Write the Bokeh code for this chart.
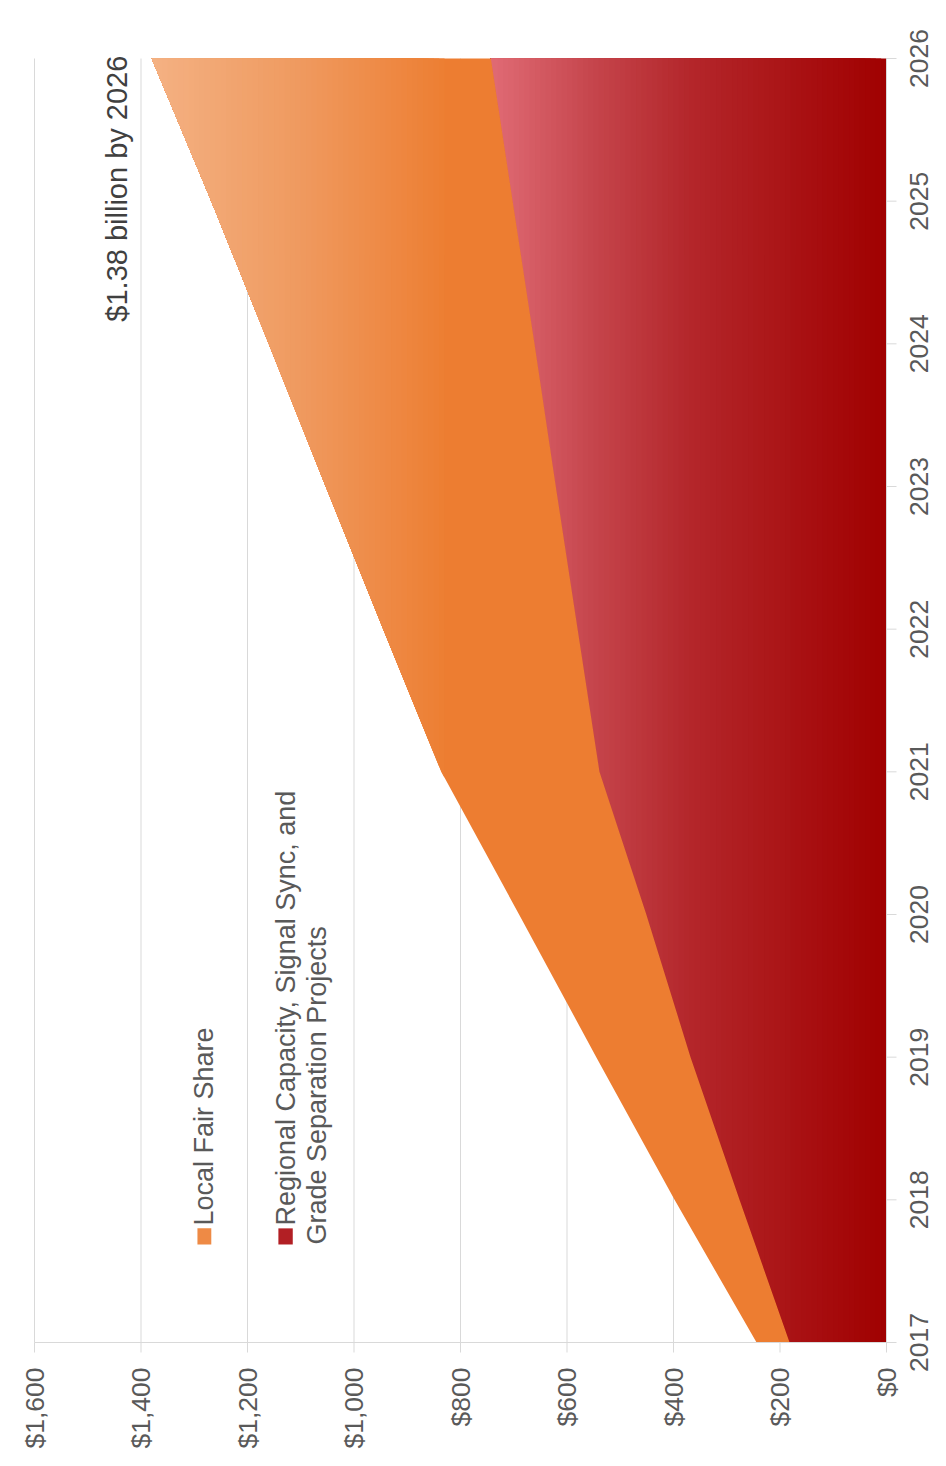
import numpy as np
from bokeh.plotting import figure
from bokeh.models import Range1d, Label, BoxAnnotation, ColumnDataSource
from bokeh.core.properties import value
from bokeh.embed import file_html
from bokeh.resources import INLINE

# ---- data (values in $ millions) ----
years = [2017, 2018, 2019, 2020, 2021, 2022, 2023, 2024, 2025, 2026]
regional = [182, 276, 368, 451, 539, 580, 621, 661, 702, 743]
local_fair_share = [62, 122, 177, 239, 297, 365, 432, 499, 566, 637]
value_ticks = [0, 200, 400, 600, 800, 1000, 1200, 1400, 1600]
value_labels = ["$0", "$200", "$400", "$600", "$800", "$1,000", "$1,200", "$1,400", "$1,600"]
year_ticks = years
year_labels = [str(y) for y in year_ticks]
series_names = ["Local Fair Share", "Regional Capacity, Signal Sync, and", "Grade Separation Projects"]
annotation_text = "$1.38 billion by 2026"

# gradient stops (value -> colour)
red_stops = [(0, "#a00000"), (370, "#b4272b"), (540, "#c4434a"), (743, "#e06b75")]
orange_stops = [(0, "#ed7d31"), (820, "#ed7d31"), (1100, "#ef9a5f"), (1380, "#f4b183")]

FONT = "Liberation Sans"
GRID = "#d9d9d9"
LABEL_COL = "#595959"
TICK_FONT = "26.5px"

def hex2rgb(h):
    h = h.lstrip("#")
    return np.array([int(h[i:i + 2], 16) for i in (0, 2, 4)], dtype=float)

def colour_at(v, stops):
    vs = [s[0] for s in stops]
    cs = np.array([hex2rgb(s[1]) for s in stops])
    r, g, b = (np.interp(v, vs, cs[:, i]) for i in range(3))
    return "#%02x%02x%02x" % (int(round(r)), int(round(g)), int(round(b)))

def strip(lower, upper, vk):
    ys = set(float(y) for y in years)
    for f in (lower, upper):
        for i in range(len(years) - 1):
            a, b = f[i] - vk, f[i + 1] - vk
            if a * b < 0:
                ys.add(years[i] + (years[i + 1] - years[i]) * a / (a - b))
    ys = sorted(ys)
    lo = np.maximum(np.interp(ys, years, lower), vk)
    hi = np.maximum(np.interp(ys, years, upper), vk)
    return list(lo) + list(hi[::-1]), ys + ys[::-1]

def gradient_source(lower, upper, starts, stops, step):
    xs, ys, cols = [], [], []
    for vk in starts:
        px, py = strip(lower, upper, vk)
        xs.append(px)
        ys.append(py)
        cols.append(colour_at(vk + step / 2.0, stops))
    return ColumnDataSource(dict(xs=xs, ys=ys, color=cols))

reg = np.array(regional, dtype=float)
total = reg + np.array(local_fair_share, dtype=float)
zero = np.zeros_like(reg)

# ---- layout: one frame covering the whole canvas; the data box
# ($1,600..$0 x 2017..2026) sits at canvas x 34..886, y 58..1342 ----
W, H = 944, 1458
BOX_LEFT, BOX_W, BOX_TOP, BOX_H = 34, 852, 58, 1284
px_per_unit = BOX_W / (value_ticks[-1] - value_ticks[0])
px_per_year = BOX_H / (year_ticks[-1] - year_ticks[0])
x_start = value_ticks[-1] + BOX_LEFT / px_per_unit
x_end = value_ticks[0] - (W - BOX_LEFT - BOX_W) / px_per_unit
y_end = year_ticks[-1] + BOX_TOP / px_per_year
y_start = year_ticks[0] - (H - BOX_TOP - BOX_H) / px_per_year

p = figure(width=W, height=H,
           x_range=Range1d(x_start, x_end), y_range=Range1d(y_start, y_end),
           x_axis_location=None, y_axis_location=None,
           output_backend="svg", toolbar_location=None,
           min_border_left=0, min_border_right=0, min_border_top=0, min_border_bottom=0)
p.outline_line_color = None
p.background_fill_color = "white"
p.xgrid.grid_line_color = None
p.ygrid.grid_line_color = None

# value gridlines, limited to the 2017..2026 span
n_v = len(value_ticks)
p.segment(x0=value_ticks, y0=[year_ticks[0]] * n_v, x1=value_ticks, y1=[year_ticks[-1]] * n_v,
          line_color=GRID, line_width=1)

# red series (bottom) with gradient
step = 10
red_starts = list(np.arange(0, float(reg.max()), step))
src_red = gradient_source(zero, reg, red_starts, red_stops, step)
p.patches(xs="xs", ys="ys", fill_color="color", line_color=None, source=src_red)

# orange series (stacked) with gradient
orange_starts = [0.0] + list(np.arange(830, float(total.max()), step))
src_or = gradient_source(reg, total, orange_starts, orange_stops, step)
p.patches(xs="xs", ys="ys", fill_color="color", line_color=None, source=src_or)

# value scale along the 2017 baseline: line, outward ticks, rotated labels
base = year_ticks[0]
p.segment(x0=[value_ticks[0]], y0=[base], x1=[value_ticks[-1]], y1=[base], line_color=GRID, line_width=1)
p.segment(x0=value_ticks, y0=[base] * n_v, x1=value_ticks,
          y1=[base - 10 / px_per_year] * n_v, line_color=GRID, line_width=1)
p.text(x=value_ticks, y=[base - 25 / px_per_year] * n_v, text=value_labels,
       angle=np.pi / 2, text_align="right", text_baseline="middle",
       text_font=value(FONT), text_font_size=TICK_FONT, text_color=LABEL_COL)

# year scale along the $0 edge: line, outward ticks, rotated labels
edge = value_ticks[0]
n_y = len(year_ticks)
p.segment(x0=[edge], y0=[year_ticks[0]], x1=[edge], y1=[year_ticks[-1]], line_color=GRID, line_width=1)
p.segment(x0=[edge] * n_y, y0=year_ticks, x1=[edge - 10 / px_per_unit] * n_y,
          y1=year_ticks, line_color=GRID, line_width=1)
p.text(x=[edge - 32 / px_per_unit] * n_y, y=year_ticks, text=year_labels,
       angle=np.pi / 2, text_align="center", text_baseline="middle",
       text_font=value(FONT), text_font_size=TICK_FONT, text_color=LABEL_COL)

# annotation
p.add_layout(Label(x=1446, y=2026.02, text=annotation_text, angle=np.pi / 2,
                   text_align="right", text_baseline="middle",
                   text_font=FONT, text_font_size="29px", text_color="#404040"))

# legend (rotated, drawn manually)
p.add_layout(BoxAnnotation(left=1294, right=1268, bottom=2017.687, top=2017.80,
                           fill_color="#ee8a45", fill_alpha=1, line_color=None))
p.add_layout(BoxAnnotation(left=1142, right=1115, bottom=2017.687, top=2017.80,
                           fill_color="#b21f24", fill_alpha=1, line_color=None))
legend_style = dict(angle=np.pi / 2, text_align="left", text_baseline="middle",
                    text_font=FONT, text_font_size="27px", text_color=LABEL_COL)
p.add_layout(Label(x=1281, y=2017.82, text=series_names[0], **legend_style))
p.add_layout(Label(x=1127, y=2017.82, text=series_names[1], **legend_style))
p.add_layout(Label(x=1069, y=2017.687, text=series_names[2], **legend_style))

open("out.html", "w").write(file_html(p, INLINE))
